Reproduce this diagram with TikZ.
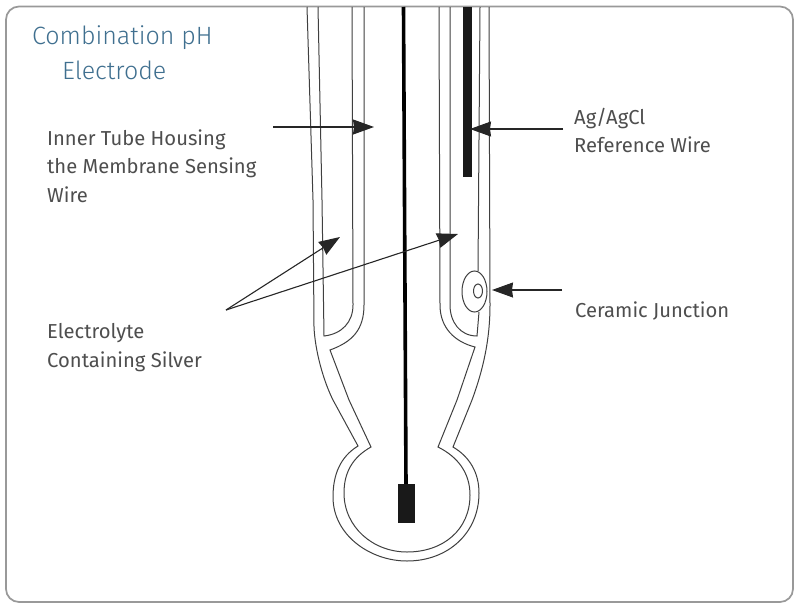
\documentclass[tikz,border=0pt]{standalone}
\usepackage{fontspec}
\setmainfont{Fira Sans}
\newfontfamily\ttlfont{Fira Sans Light}
\usetikzlibrary{arrows.meta}
\definecolor{lab}{HTML}{4E4E4E}
\definecolor{ttl}{HTML}{3F6F8F}
\tikzset{
  glass/.style={draw=black!75,line width=1pt,line join=miter},
  callout/.style={draw=black!85,line width=1.1pt,-{Stealth[inset=1pt,length=21pt,width=15pt]}},
  lbl/.style={text=lab,font=\fontsize{20.2}{28.3}\selectfont,align=left,anchor=north west,inner sep=0pt},
  ttlstyle/.style={text=ttl,font=\ttlfont\fontsize{25}{35}\selectfont,align=left,anchor=west,inner sep=0pt}
}
\begin{document}
\begin{tikzpicture}[x=1pt,y=-1pt]
\useasboundingbox (0,0) rectangle (800,608);
\fill[white] (0,0) rectangle (800,608);
\draw[black!40,line width=1.7pt,rounded corners=13pt] (6,6.5) rectangle (793,602);
% outer wall
\draw[glass] (307,7) -- (313,200) -- (314,327) .. controls (315,350) and (323,380) .. (333,400) -- (358,446)
  .. controls (340,457) and (333,475) .. (333,497) .. controls (333,535) and (370,561) .. (407,561)
  .. controls (448,561) and (479,533) .. (479,493) .. controls (479,473) and (470,457) .. (453,447)
  -- (472,400) .. controls (483,370) and (490,340) .. (490,305) -- (489,7);
% inner tube left
\draw[glass] (318,7) -- (322,200) -- (324,336) .. controls (342,334) and (353,322) .. (353,305) -- (352,7);
% inner wall
\draw[glass] (364,7) -- (364,305) .. controls (364,330) and (352,342) .. (330,350) -- (349,400) -- (371,447)
  .. controls (353,457) and (344,472) .. (344,493) .. controls (344,527) and (373,552) .. (407,552)
  .. controls (443,552) and (470,530) .. (470,495) .. controls (470,473) and (458,457) .. (438,447)
  -- (457,400) -- (475,347) .. controls (455,342) and (440,328) .. (440,305) -- (439,7);
\draw[glass] (450,7) -- (450,305) .. controls (450,322) and (460,336) .. (477,336) -- (479,312);
\draw[glass] (480,7) -- (478,271);
\draw[glass] (474.5,291.5) ellipse [x radius=12.5,y radius=20.5];
\draw[glass] (478,291) ellipse [x radius=4.5,y radius=7];
% wires
\draw[black,line width=3.6pt] (403.5,7) -- (406,485);
\fill[black!90] (398,484) rectangle (415,523);
\fill[black!90] (463,7) rectangle (472,177);
% arrows
\coordinate (a1) at (273,127); \coordinate (a1e) at (374,127);
\coordinate (a2) at (563,129); \coordinate (a2e) at (470,129);
\coordinate (a3) at (562,290); \coordinate (a3e) at (492,290);
\coordinate (a4) at (226,310); \coordinate (a4e) at (340,237); \coordinate (a5e) at (458,234);
\draw[callout] (a1) -- (a1e);
\draw[callout] (a2) -- (a2e);
\draw[callout] (a3) -- (a3e);
\draw[callout] (a4) -- (a4e);
\draw[callout] (a4) -- (a5e);
% text
\node[ttlstyle] (title) at (32,53) {Combination pH\\\hspace*{30pt}Electrode};
\node[lbl] (inner) at (47,129.5) {Inner Tube Housing\\the Membrane Sensing\\Wire};
\node[lbl] (agcl) at (574,107.5) {Ag/AgCl\\Reference Wire};
\node[lbl] (ceramic) at (575,301.5) {Ceramic Junction};
\node[lbl] (electro) at (47,323.5) {Electrolyte\\Containing Silver};
\end{tikzpicture}
\end{document}
